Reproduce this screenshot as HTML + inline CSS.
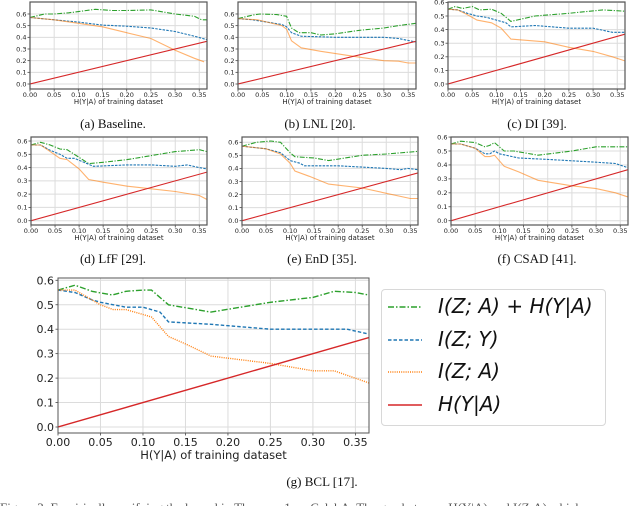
<!DOCTYPE html>
<html><head><meta charset="utf-8">
<style>
html,body{margin:0;padding:0;background:#fff;width:640px;height:506px;overflow:hidden;position:relative}
svg{position:absolute;left:0;top:0}
.cap{position:absolute;font-family:"Liberation Serif",serif;font-size:13px;color:#111;transform:translateX(-50%);white-space:nowrap}
.leg{position:absolute;left:381px;top:289px;width:225px;height:137px;border:1px solid #d8d8d8;border-radius:4px;box-sizing:border-box}
.lt{position:absolute;left:438px;font-family:"DejaVu Sans",sans-serif;font-style:italic;font-size:20px;color:#111;white-space:nowrap}
</style></head><body>
<svg id="chart" width="640" height="506" xmlns="http://www.w3.org/2000/svg"></svg>
<div class="cap" style="left:113px;top:116px">(a) Baseline.</div>
<div class="cap" style="left:320px;top:116px">(b) LNL [20].</div>
<div class="cap" style="left:537px;top:116px">(c) DI [39].</div>
<div class="cap" style="left:113px;top:251px">(d) LfF [29].</div>
<div class="cap" style="left:322px;top:251px">(e) EnD [35].</div>
<div class="cap" style="left:537px;top:251px">(f) CSAD [41].</div>
<div class="cap" style="left:322px;top:474px">(g) BCL [17].</div>
<div class="cap" style="left:0;transform:none;top:500px;color:#555">Figure 3: Empirically verifying the bound in Theorem 1 on CelebA. The gap between H(Y|A) and I(Z;A) which</div>
<div class="leg"></div>
<svg width="640" height="506" style="pointer-events:none">
<line x1="388" y1="307" x2="422" y2="307" stroke="#2ca02c" stroke-width="1.5" stroke-dasharray="6,2,1.5,2"/>
<line x1="388" y1="340" x2="422" y2="340" stroke="#1f77b4" stroke-width="1.5" stroke-dasharray="3.5,2"/>
<line x1="388" y1="372" x2="422" y2="372" stroke="#ff7f0e" stroke-width="1.5" stroke-dasharray="1,1.2"/>
<line x1="388" y1="405" x2="422" y2="405" stroke="#d62728" stroke-width="1.5"/>
</svg>
<div class="lt" style="top:294px">I(Z; A) + H(Y|A)</div>
<div class="lt" style="top:327px">I(Z; Y)</div>
<div class="lt" style="top:359px">I(Z; A)</div>
<div class="lt" style="top:392px">H(Y|A)</div>
<script>
const xTicks=[0,0.05,0.1,0.15,0.2,0.25,0.3,0.35];
const xTickLabels=["0.00","0.05","0.10","0.15","0.20","0.25","0.30","0.35"];
const yTicks=[0,0.1,0.2,0.3,0.4,0.5,0.6];
const yTickLabels=["0.0","0.1","0.2","0.3","0.4","0.5","0.6"];
const hX=[0,0.366];
const hY=[0,0.366];
// (a) Baseline
const aGreenX=[0,0.03,0.05,0.08,0.1,0.135,0.17,0.2,0.25,0.3,0.34,0.355,0.366];
const aGreenY=[0.57,0.6,0.6,0.61,0.62,0.64,0.63,0.63,0.635,0.6,0.58,0.55,0.55];
const aBlueX=[0,0.05,0.1,0.15,0.2,0.25,0.3,0.34,0.366];
const aBlueY=[0.57,0.55,0.53,0.505,0.495,0.48,0.45,0.41,0.38];
const aOrangeX=[0,0.05,0.1,0.15,0.2,0.25,0.3,0.34,0.36];
const aOrangeY=[0.57,0.55,0.52,0.49,0.44,0.39,0.29,0.22,0.19];
// (b) LNL
const bGreenX=[0,0.03,0.045,0.08,0.1,0.11,0.125,0.15,0.17,0.2,0.25,0.3,0.33,0.366];
const bGreenY=[0.56,0.59,0.6,0.595,0.58,0.48,0.44,0.44,0.42,0.43,0.46,0.48,0.5,0.52];
const bBlueX=[0,0.03,0.06,0.09,0.1,0.11,0.13,0.2,0.3,0.33,0.366];
const bBlueY=[0.56,0.55,0.53,0.51,0.49,0.44,0.41,0.4,0.4,0.39,0.36];
const bOrangeX=[0,0.04,0.06,0.09,0.1,0.11,0.13,0.17,0.25,0.3,0.33,0.35,0.366];
const bOrangeY=[0.56,0.55,0.53,0.5,0.47,0.37,0.31,0.28,0.23,0.2,0.195,0.18,0.18];
// (c) DI
const cGreenX=[0,0.015,0.03,0.05,0.065,0.09,0.11,0.13,0.18,0.25,0.32,0.366];
const cGreenY=[0.55,0.57,0.555,0.57,0.545,0.55,0.52,0.46,0.5,0.52,0.545,0.535];
const cBlueX=[0,0.02,0.04,0.06,0.08,0.1,0.12,0.13,0.18,0.25,0.3,0.34,0.366];
const cBlueY=[0.55,0.545,0.52,0.5,0.49,0.47,0.45,0.42,0.43,0.41,0.41,0.38,0.38];
const cOrangeX=[0,0.02,0.04,0.06,0.09,0.11,0.13,0.2,0.25,0.3,0.34,0.366];
const cOrangeY=[0.55,0.545,0.51,0.47,0.45,0.41,0.33,0.31,0.27,0.24,0.2,0.17];
// (d) LfF
const dGreenX=[0,0.02,0.04,0.06,0.075,0.09,0.12,0.15,0.2,0.25,0.3,0.35,0.366];
const dGreenY=[0.57,0.59,0.57,0.54,0.535,0.5,0.43,0.44,0.46,0.49,0.52,0.535,0.52];
const dBlueX=[0,0.02,0.04,0.06,0.075,0.09,0.11,0.13,0.2,0.25,0.3,0.325,0.35,0.366];
const dBlueY=[0.57,0.57,0.53,0.5,0.47,0.47,0.44,0.41,0.42,0.42,0.41,0.42,0.4,0.39];
const dOrangeX=[0,0.02,0.04,0.06,0.075,0.1,0.12,0.15,0.2,0.25,0.3,0.35,0.366];
const dOrangeY=[0.57,0.57,0.52,0.47,0.46,0.39,0.31,0.29,0.26,0.24,0.22,0.19,0.16];
// (e) EnD
const eGreenX=[0,0.03,0.06,0.08,0.1,0.11,0.15,0.18,0.25,0.3,0.366];
const eGreenY=[0.57,0.6,0.61,0.6,0.52,0.49,0.48,0.46,0.5,0.51,0.53];
const eBlueX=[0,0.05,0.08,0.1,0.12,0.13,0.2,0.25,0.3,0.33,0.345,0.366];
const eBlueY=[0.57,0.55,0.52,0.46,0.44,0.42,0.42,0.41,0.4,0.39,0.4,0.39];
const eOrangeX=[0,0.05,0.08,0.1,0.11,0.14,0.18,0.25,0.3,0.35,0.366];
const eOrangeY=[0.57,0.55,0.51,0.44,0.38,0.34,0.28,0.25,0.21,0.17,0.17];
// (f) CSAD
const fGreenX=[0,0.02,0.05,0.07,0.08,0.09,0.11,0.13,0.18,0.25,0.3,0.366];
const fGreenY=[0.55,0.57,0.56,0.53,0.54,0.56,0.5,0.5,0.47,0.5,0.53,0.53];
const fBlueX=[0,0.02,0.05,0.07,0.08,0.09,0.1,0.14,0.2,0.3,0.34,0.366];
const fBlueY=[0.55,0.55,0.52,0.48,0.48,0.5,0.48,0.45,0.44,0.42,0.41,0.38];
const fOrangeX=[0,0.02,0.05,0.07,0.08,0.09,0.11,0.14,0.18,0.25,0.3,0.34,0.366];
const fOrangeY=[0.55,0.55,0.52,0.46,0.46,0.47,0.39,0.35,0.29,0.25,0.23,0.2,0.17];
// (g) BCL
const gGreenX=[0,0.02,0.04,0.064,0.08,0.1,0.11,0.13,0.18,0.25,0.3,0.325,0.35,0.366];
const gGreenY=[0.56,0.58,0.555,0.54,0.555,0.56,0.56,0.5,0.47,0.51,0.53,0.555,0.55,0.54];
const gBlueX=[0,0.02,0.04,0.05,0.08,0.1,0.12,0.13,0.18,0.25,0.34,0.366];
const gBlueY=[0.56,0.55,0.52,0.51,0.49,0.49,0.47,0.43,0.42,0.4,0.4,0.38];
const gOrangeX=[0,0.02,0.05,0.065,0.08,0.1,0.11,0.13,0.15,0.18,0.25,0.3,0.325,0.366];
const gOrangeY=[0.56,0.56,0.5,0.48,0.48,0.46,0.45,0.37,0.34,0.29,0.26,0.23,0.23,0.18];

const NS="http://www.w3.org/2000/svg";
const svg=document.getElementById('chart');
function mk(tag,attrs,parent){const e=document.createElementNS(NS,tag);for(const k in attrs)e.setAttribute(k,attrs[k]);(parent||svg).appendChild(e);return e;}

const panels=[
 {id:'a',L:30,R:207,T:2,B:89,y0:84,ys:116.7,fs:6.5,big:false,s:[aGreenX,aGreenY,aBlueX,aBlueY,aOrangeX,aOrangeY]},
 {id:'b',L:238,R:416,T:2,B:89,y0:84,ys:116.7,fs:6.5,big:false,s:[bGreenX,bGreenY,bBlueX,bBlueY,bOrangeX,bOrangeY]},
 {id:'c',L:448,R:625,T:2,B:89,y0:84,ys:136,fs:6.5,big:false,s:[cGreenX,cGreenY,cBlueX,cBlueY,cOrangeX,cOrangeY]},
 {id:'d',L:31,R:207,T:137,B:225,y0:220.7,ys:132.8,fs:6.5,big:false,s:[dGreenX,dGreenY,dBlueX,dBlueY,dOrangeX,dOrangeY]},
 {id:'e',L:242,R:418,T:137,B:225,y0:220.7,ys:130.7,fs:6.5,big:false,s:[eGreenX,eGreenY,eBlueX,eBlueY,eOrangeX,eOrangeY]},
 {id:'f',L:451,R:628,T:137,B:225,y0:220.7,ys:139.4,fs:6.5,big:false,s:[fGreenX,fGreenY,fBlueX,fBlueY,fOrangeX,fOrangeY]},
 {id:'g',L:58,R:369,T:278,B:433,y0:427,ys:244.5,fs:11,big:true,s:[gGreenX,gGreenY,gBlueX,gBlueY,gOrangeX,gOrangeY]}
];
const xMax=0.366;
panels.forEach(p=>{
 const g=mk('g',{});
 
 
 const xs=v=>p.L+(v/xMax)*(p.R-p.L);
 const ys=v=>p.y0-v*p.ys;
 const lw=p.big?1.4:1.1;
 xTicks.forEach((t,i)=>{const x=xs(t);
  const gl=mk('line',{x1:x,x2:x,y1:p.T,y2:p.B,stroke:'#dcdcdc','stroke-width':1},g);
  
  
  mk('line',{x1:x,x2:x,y1:p.B,y2:p.B+2.5,stroke:'#444','stroke-width':0.8},g);
  const tx=mk('text',{x:x,y:p.B+(p.big?13:8),'font-size':p.fs,'text-anchor':'middle','font-family':'DejaVu Sans, sans-serif',fill:'#222'},g);
  tx.textContent=xTickLabels[i];
  
  
 });
 yTicks.forEach((t,i)=>{const y=ys(t); if(y<p.T-0.5)return;
  const gl=mk('line',{x1:p.L,x2:p.R,y1:y,y2:y,stroke:'#dcdcdc','stroke-width':1},g);
  
  
  mk('line',{x1:p.L-2.5,x2:p.L,y1:y,y2:y,stroke:'#444','stroke-width':0.8},g);
  const tx=mk('text',{x:p.L-(p.big?4:3.5),y:y+(p.big?4:2.3),'font-size':p.fs,'text-anchor':'end','font-family':'DejaVu Sans, sans-serif',fill:'#222'},g);
  tx.textContent=yTickLabels[i];
  
  
 });
 const lab=mk('text',{x:(p.L+p.R)/2,y:p.B+(p.big?26:15),'font-size':p.big?11.5:7,'text-anchor':'middle','font-family':'DejaVu Sans, sans-serif',fill:'#222'},g);
 lab.textContent='H(Y|A) of training dataset';
 
 
 const clip=mk('clipPath',{id:'clip'+p.id},g);
 mk('rect',{x:p.L,y:p.T,width:p.R-p.L,height:p.B-p.T},clip);
 const styles=[['#2ca02c',p.big?'6,2,1.5,2':'5,1.5,1.2,1.5','series-i-za-plus-h-ya'],['#1f77b4',p.big?'3.5,2':'2.5,1.2','series-i-zy'],['#ff7f0e',p.big?'1,1.2':'',"series-i-za"]];
 for(let k=0;k<3;k++){
  const X=p.s[2*k],Y=p.s[2*k+1];
  const d=X.map((v,i)=>(i?'L':'M')+xs(v).toFixed(1)+','+ys(Y[i]).toFixed(1)).join(' ');
  const at={d:d,fill:'none',stroke:styles[k][0],'stroke-width':lw,'clip-path':'url(#clip'+p.id+')'};
  if(styles[k][1])at['stroke-dasharray']=styles[k][1];
  if(k==2&&!p.big)at['stroke-opacity']=0.6;
  const path=mk('path',at,g);
  
  
 }
 const red=mk('path',{d:hX.map((v,i)=>(i?'L':'M')+xs(v).toFixed(1)+','+ys(hY[i]).toFixed(1)).join(' '),fill:'none',stroke:'#d62728','stroke-width':lw,'clip-path':'url(#clip'+p.id+')'},g);
 
 
 const fr=mk('rect',{x:p.L,y:p.T,width:p.R-p.L,height:p.B-p.T,fill:'none',stroke:'#555','stroke-width':p.big?1:1.2},g);
 
 
});
</script>
</body></html>
